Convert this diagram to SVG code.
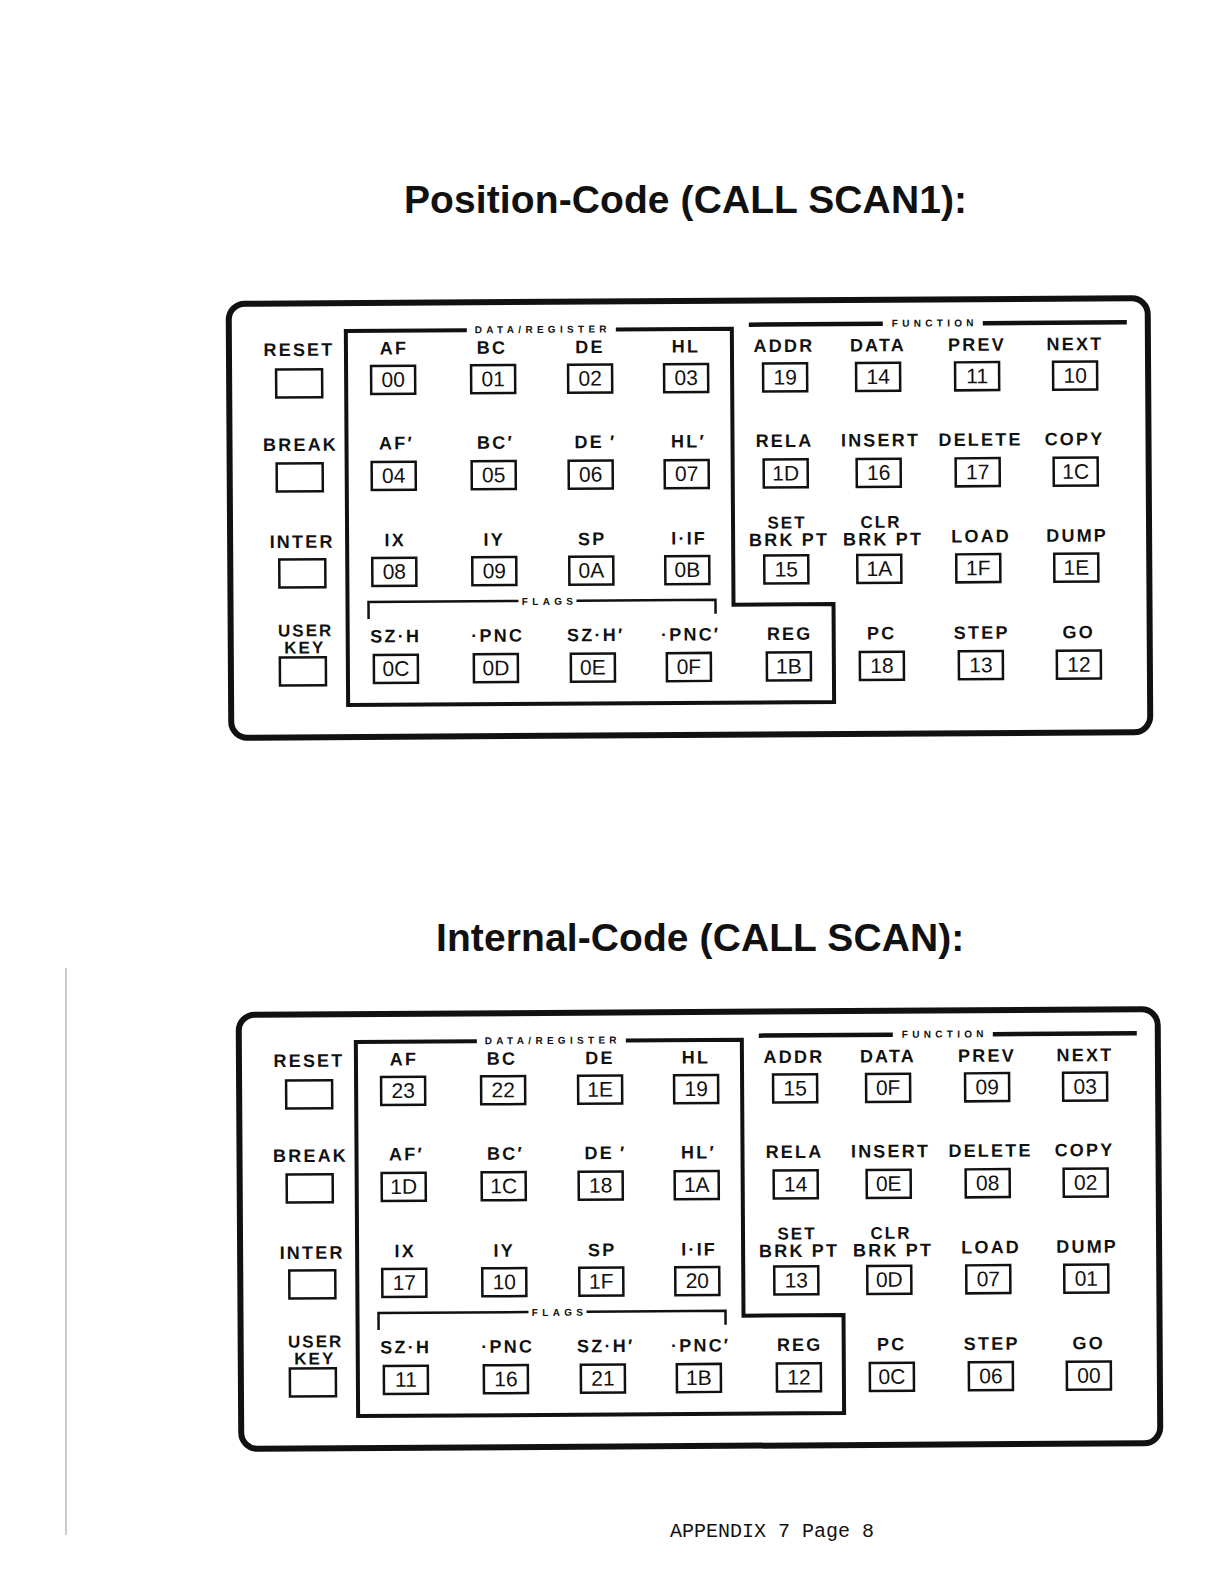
<svg xmlns="http://www.w3.org/2000/svg" width="1228" height="1584" viewBox="0 0 1228 1584">
<style>
.bg{fill:#fff}
.title{font-family:"Liberation Sans",Arial,sans-serif;font-weight:bold;font-size:39px;letter-spacing:0.1px;fill:#111}
.lbl{font-family:"Liberation Sans",Arial,sans-serif;font-weight:bold;font-size:18px;letter-spacing:2.2px;text-anchor:middle;fill:#111}
.lbs{font-family:"Liberation Sans",Arial,sans-serif;font-weight:bold;font-size:17px;letter-spacing:2px;text-anchor:middle;fill:#111}
.sm{font-family:"Liberation Sans",Arial,sans-serif;font-weight:bold;font-size:10px;letter-spacing:4.3px;text-anchor:middle;fill:#111}
.code{font-family:"Liberation Sans",Arial,sans-serif;font-size:21px;text-anchor:middle;fill:#111}
.key{fill:none;stroke:#111;stroke-width:2.5}
.frame{fill:none;stroke:#111;stroke-width:6}
.region{fill:none;stroke:#111;stroke-width:4}
.bar{fill:none;stroke:#111;stroke-width:4.5}
.brk{fill:none;stroke:#111;stroke-width:2.5}
.foot{font-family:"Liberation Mono","Courier New",monospace;font-size:20px;fill:#111}
</style>
<rect class="bg" x="0" y="0" width="1228" height="1584"/>
<line x1="66" y1="968" x2="66" y2="1535" stroke="#9a9a9a" stroke-width="1"/>

<text class="title" x="404" y="213">Position-Code (CALL SCAN1):</text>
<text class="title" x="436" y="951">Internal-Code (CALL SCAN):</text>

<!-- ============ PANEL 1 ============ -->
<g id="panel1" transform="rotate(-0.35 690 520)">
  <rect id="p1-frame" class="frame" x="230" y="301" width="919" height="434" rx="16"/>
  <g id="p1-connectors">
    <path class="region" d="M468,329 H347 V703 H833 V605 H733 V329 H617"/>
    <path class="bar" d="M750,325 H884 M984,325 H1128"/>
    <path class="brk" d="M368,617 V600 H518 M576,600 H715 V614"/>
  </g>
  <text class="sm" x="544" y="332">DATA/REGISTER</text>
  <text class="sm" x="936" y="328">FUNCTION</text>
  <text class="sm" x="549" y="604">FLAGS</text>

  <g id="p1-reset"><text class="lbl" x="300" y="353.5">RESET</text><rect class="key" x="277" y="367" width="46" height="28"/></g>
  <g id="p1-break"><text class="lbl" x="301" y="448.5">BREAK</text><rect class="key" x="277" y="461" width="46" height="28"/></g>
  <g id="p1-inter"><text class="lbl" x="302" y="545.5">INTER</text><rect class="key" x="279" y="557" width="46" height="28"/></g>
  <g id="p1-userkey"><text class="lbs" x="305" y="634">USER</text><text class="lbs" x="304" y="651">KEY</text><rect class="key" x="279" y="655" width="46" height="28"/></g>

  <g id="p1-af"><text class="lbl" x="395" y="352.5">AF</text><rect class="key" x="372" y="364" width="44" height="28"/><text class="code" x="394" y="385">00</text></g>
  <g id="p1-bc"><text class="lbl" x="493" y="352.5">BC</text><rect class="key" x="472" y="364" width="44" height="28"/><text class="code" x="494" y="385">01</text></g>
  <g id="p1-de"><text class="lbl" x="591" y="352.5">DE</text><rect class="key" x="569" y="364" width="44" height="28"/><text class="code" x="591" y="385">02</text></g>
  <g id="p1-hl"><text class="lbl" x="687" y="352.5">HL</text><rect class="key" x="665" y="364" width="44" height="28"/><text class="code" x="687" y="385">03</text></g>
  <g id="p1-addr"><text class="lbl" x="785" y="352.5">ADDR</text><rect class="key" x="764" y="364" width="44" height="28"/><text class="code" x="786" y="385">19</text></g>
  <g id="p1-data"><text class="lbl" x="879" y="352.5">DATA</text><rect class="key" x="857" y="364" width="44" height="28"/><text class="code" x="879" y="385">14</text></g>
  <g id="p1-prev"><text class="lbl" x="978" y="352.5">PREV</text><rect class="key" x="956" y="364" width="44" height="28"/><text class="code" x="978" y="385">11</text></g>
  <g id="p1-next"><text class="lbl" x="1076" y="352.5">NEXT</text><rect class="key" x="1054" y="364" width="44" height="28"/><text class="code" x="1076" y="385">10</text></g>

  <g id="p1-af2"><text class="lbl" x="397" y="447.5">AF′</text><rect class="key" x="372" y="460" width="44" height="28"/><text class="code" x="394" y="481">04</text></g>
  <g id="p1-bc2"><text class="lbl" x="496" y="447.5">BC′</text><rect class="key" x="472" y="460" width="44" height="28"/><text class="code" x="494" y="481">05</text></g>
  <g id="p1-de2"><text class="lbl" x="596" y="447.5">DE<tspan dx="6">′</tspan></text><rect class="key" x="569" y="460" width="44" height="28"/><text class="code" x="591" y="481">06</text></g>
  <g id="p1-hl2"><text class="lbl" x="689" y="447.5">HL′</text><rect class="key" x="665" y="460" width="44" height="28"/><text class="code" x="687" y="481">07</text></g>
  <g id="p1-rela"><text class="lbl" x="785" y="447.5">RELA</text><rect class="key" x="764" y="460" width="44" height="28"/><text class="code" x="786" y="481">1D</text></g>
  <g id="p1-insert"><text class="lbl" x="881" y="447.5">INSERT</text><rect class="key" x="857" y="460" width="44" height="28"/><text class="code" x="879" y="481">16</text></g>
  <g id="p1-delete"><text class="lbl" x="981" y="447.5">DELETE</text><rect class="key" x="956" y="460" width="44" height="28"/><text class="code" x="978" y="481">17</text></g>
  <g id="p1-copy"><text class="lbl" x="1075" y="447.5">COPY</text><rect class="key" x="1054" y="460" width="44" height="28"/><text class="code" x="1076" y="481">1C</text></g>

  <g id="p1-ix"><text class="lbl" x="395" y="544.5">IX</text><rect class="key" x="372" y="556" width="44" height="28"/><text class="code" x="394" y="577">08</text></g>
  <g id="p1-iy"><text class="lbl" x="494" y="544.5">IY</text><rect class="key" x="472" y="556" width="44" height="28"/><text class="code" x="494" y="577">09</text></g>
  <g id="p1-sp"><text class="lbl" x="592" y="544.5">SP</text><rect class="key" x="569" y="556" width="44" height="28"/><text class="code" x="591" y="577">0A</text></g>
  <g id="p1-iif"><text class="lbl" x="689" y="544.5">I·IF</text><rect class="key" x="665" y="556" width="44" height="28"/><text class="code" x="687" y="577">0B</text></g>
  <g id="p1-setbrk"><text class="lbs" x="787" y="529">SET</text><text class="lbl" x="789" y="546.5">BRK PT</text><rect class="key" x="764" y="556" width="44" height="28"/><text class="code" x="786" y="577">15</text></g>
  <g id="p1-clrbrk"><text class="lbs" x="881" y="529">CLR</text><text class="lbl" x="883" y="546.5">BRK PT</text><rect class="key" x="857" y="556" width="44" height="28"/><text class="code" x="879" y="577">1A</text></g>
  <g id="p1-load"><text class="lbl" x="981" y="544">LOAD</text><rect class="key" x="956" y="556" width="44" height="28"/><text class="code" x="978" y="577">1F</text></g>
  <g id="p1-dump"><text class="lbl" x="1077" y="544">DUMP</text><rect class="key" x="1054" y="556" width="44" height="28"/><text class="code" x="1076" y="577">1E</text></g>

  <g id="p1-szh"><text class="lbl" x="395" y="640.5">SZ·H</text><rect class="key" x="373" y="653" width="44" height="28"/><text class="code" x="395" y="674">0C</text></g>
  <g id="p1-pnc"><text class="lbl" x="497" y="640.5">·PNC</text><rect class="key" x="473" y="653" width="44" height="28"/><text class="code" x="495" y="674">0D</text></g>
  <g id="p1-szh2"><text class="lbl" x="595" y="640.5">SZ·H′</text><rect class="key" x="570" y="653" width="44" height="28"/><text class="code" x="592" y="674">0E</text></g>
  <g id="p1-pnc2"><text class="lbl" x="690" y="640.5">·PNC′</text><rect class="key" x="666" y="653" width="44" height="28"/><text class="code" x="688" y="674">0F</text></g>
  <g id="p1-reg"><text class="lbl" x="789" y="640.5">REG</text><rect class="key" x="766" y="653" width="44" height="28"/><text class="code" x="788" y="674">1B</text></g>
  <g id="p1-pc"><text class="lbl" x="881" y="640.5">PC</text><rect class="key" x="859" y="653" width="44" height="28"/><text class="code" x="881" y="674">18</text></g>
  <g id="p1-step"><text class="lbl" x="981" y="640.5">STEP</text><rect class="key" x="958" y="653" width="44" height="28"/><text class="code" x="980" y="674">13</text></g>
  <g id="p1-go"><text class="lbl" x="1078" y="640.5">GO</text><rect class="key" x="1056" y="653" width="44" height="28"/><text class="code" x="1078" y="674">12</text></g>
</g>

<!-- ============ PANEL 2 ============ -->
<g id="panel2" transform="translate(10,711) rotate(-0.35 690 520)">
  <rect id="p2-frame" class="frame" x="230" y="301" width="919" height="434" rx="16"/>
  <g id="p2-connectors">
    <path class="region" d="M468,329 H347 V703 H833 V605 H733 V329 H617"/>
    <path class="bar" d="M750,325 H884 M984,325 H1128"/>
    <path class="brk" d="M368,617 V600 H518 M576,600 H715 V614"/>
  </g>
  <text class="sm" x="544" y="332">DATA/REGISTER</text>
  <text class="sm" x="936" y="328">FUNCTION</text>
  <text class="sm" x="549" y="604">FLAGS</text>

  <g id="p2-reset"><text class="lbl" x="300" y="353.5">RESET</text><rect class="key" x="277" y="367" width="46" height="28"/></g>
  <g id="p2-break"><text class="lbl" x="301" y="448.5">BREAK</text><rect class="key" x="277" y="461" width="46" height="28"/></g>
  <g id="p2-inter"><text class="lbl" x="302" y="545.5">INTER</text><rect class="key" x="279" y="557" width="46" height="28"/></g>
  <g id="p2-userkey"><text class="lbs" x="305" y="634">USER</text><text class="lbs" x="304" y="651">KEY</text><rect class="key" x="279" y="655" width="46" height="28"/></g>

  <g id="p2-af"><text class="lbl" x="395" y="352.5">AF</text><rect class="key" x="372" y="364" width="44" height="28"/><text class="code" x="394" y="385">23</text></g>
  <g id="p2-bc"><text class="lbl" x="493" y="352.5">BC</text><rect class="key" x="472" y="364" width="44" height="28"/><text class="code" x="494" y="385">22</text></g>
  <g id="p2-de"><text class="lbl" x="591" y="352.5">DE</text><rect class="key" x="569" y="364" width="44" height="28"/><text class="code" x="591" y="385">1E</text></g>
  <g id="p2-hl"><text class="lbl" x="687" y="352.5">HL</text><rect class="key" x="665" y="364" width="44" height="28"/><text class="code" x="687" y="385">19</text></g>
  <g id="p2-addr"><text class="lbl" x="785" y="352.5">ADDR</text><rect class="key" x="764" y="364" width="44" height="28"/><text class="code" x="786" y="385">15</text></g>
  <g id="p2-data"><text class="lbl" x="879" y="352.5">DATA</text><rect class="key" x="857" y="364" width="44" height="28"/><text class="code" x="879" y="385">0F</text></g>
  <g id="p2-prev"><text class="lbl" x="978" y="352.5">PREV</text><rect class="key" x="956" y="364" width="44" height="28"/><text class="code" x="978" y="385">09</text></g>
  <g id="p2-next"><text class="lbl" x="1076" y="352.5">NEXT</text><rect class="key" x="1054" y="364" width="44" height="28"/><text class="code" x="1076" y="385">03</text></g>

  <g id="p2-af2"><text class="lbl" x="397" y="447.5">AF′</text><rect class="key" x="372" y="460" width="44" height="28"/><text class="code" x="394" y="481">1D</text></g>
  <g id="p2-bc2"><text class="lbl" x="496" y="447.5">BC′</text><rect class="key" x="472" y="460" width="44" height="28"/><text class="code" x="494" y="481">1C</text></g>
  <g id="p2-de2"><text class="lbl" x="596" y="447.5">DE<tspan dx="6">′</tspan></text><rect class="key" x="569" y="460" width="44" height="28"/><text class="code" x="591" y="481">18</text></g>
  <g id="p2-hl2"><text class="lbl" x="689" y="447.5">HL′</text><rect class="key" x="665" y="460" width="44" height="28"/><text class="code" x="687" y="481">1A</text></g>
  <g id="p2-rela"><text class="lbl" x="785" y="447.5">RELA</text><rect class="key" x="764" y="460" width="44" height="28"/><text class="code" x="786" y="481">14</text></g>
  <g id="p2-insert"><text class="lbl" x="881" y="447.5">INSERT</text><rect class="key" x="857" y="460" width="44" height="28"/><text class="code" x="879" y="481">0E</text></g>
  <g id="p2-delete"><text class="lbl" x="981" y="447.5">DELETE</text><rect class="key" x="956" y="460" width="44" height="28"/><text class="code" x="978" y="481">08</text></g>
  <g id="p2-copy"><text class="lbl" x="1075" y="447.5">COPY</text><rect class="key" x="1054" y="460" width="44" height="28"/><text class="code" x="1076" y="481">02</text></g>

  <g id="p2-ix"><text class="lbl" x="395" y="544.5">IX</text><rect class="key" x="372" y="556" width="44" height="28"/><text class="code" x="394" y="577">17</text></g>
  <g id="p2-iy"><text class="lbl" x="494" y="544.5">IY</text><rect class="key" x="472" y="556" width="44" height="28"/><text class="code" x="494" y="577">10</text></g>
  <g id="p2-sp"><text class="lbl" x="592" y="544.5">SP</text><rect class="key" x="569" y="556" width="44" height="28"/><text class="code" x="591" y="577">1F</text></g>
  <g id="p2-iif"><text class="lbl" x="689" y="544.5">I·IF</text><rect class="key" x="665" y="556" width="44" height="28"/><text class="code" x="687" y="577">20</text></g>
  <g id="p2-setbrk"><text class="lbs" x="787" y="529">SET</text><text class="lbl" x="789" y="546.5">BRK PT</text><rect class="key" x="764" y="556" width="44" height="28"/><text class="code" x="786" y="577">13</text></g>
  <g id="p2-clrbrk"><text class="lbs" x="881" y="529">CLR</text><text class="lbl" x="883" y="546.5">BRK PT</text><rect class="key" x="857" y="556" width="44" height="28"/><text class="code" x="879" y="577">0D</text></g>
  <g id="p2-load"><text class="lbl" x="981" y="544">LOAD</text><rect class="key" x="956" y="556" width="44" height="28"/><text class="code" x="978" y="577">07</text></g>
  <g id="p2-dump"><text class="lbl" x="1077" y="544">DUMP</text><rect class="key" x="1054" y="556" width="44" height="28"/><text class="code" x="1076" y="577">01</text></g>

  <g id="p2-szh"><text class="lbl" x="395" y="640.5">SZ·H</text><rect class="key" x="373" y="653" width="44" height="28"/><text class="code" x="395" y="674">11</text></g>
  <g id="p2-pnc"><text class="lbl" x="497" y="640.5">·PNC</text><rect class="key" x="473" y="653" width="44" height="28"/><text class="code" x="495" y="674">16</text></g>
  <g id="p2-szh2"><text class="lbl" x="595" y="640.5">SZ·H′</text><rect class="key" x="570" y="653" width="44" height="28"/><text class="code" x="592" y="674">21</text></g>
  <g id="p2-pnc2"><text class="lbl" x="690" y="640.5">·PNC′</text><rect class="key" x="666" y="653" width="44" height="28"/><text class="code" x="688" y="674">1B</text></g>
  <g id="p2-reg"><text class="lbl" x="789" y="640.5">REG</text><rect class="key" x="766" y="653" width="44" height="28"/><text class="code" x="788" y="674">12</text></g>
  <g id="p2-pc"><text class="lbl" x="881" y="640.5">PC</text><rect class="key" x="859" y="653" width="44" height="28"/><text class="code" x="881" y="674">0C</text></g>
  <g id="p2-step"><text class="lbl" x="981" y="640.5">STEP</text><rect class="key" x="958" y="653" width="44" height="28"/><text class="code" x="980" y="674">06</text></g>
  <g id="p2-go"><text class="lbl" x="1078" y="640.5">GO</text><rect class="key" x="1056" y="653" width="44" height="28"/><text class="code" x="1078" y="674">00</text></g>
</g>

<text class="foot" x="670" y="1537">APPENDIX 7 Page 8</text>
</svg>
